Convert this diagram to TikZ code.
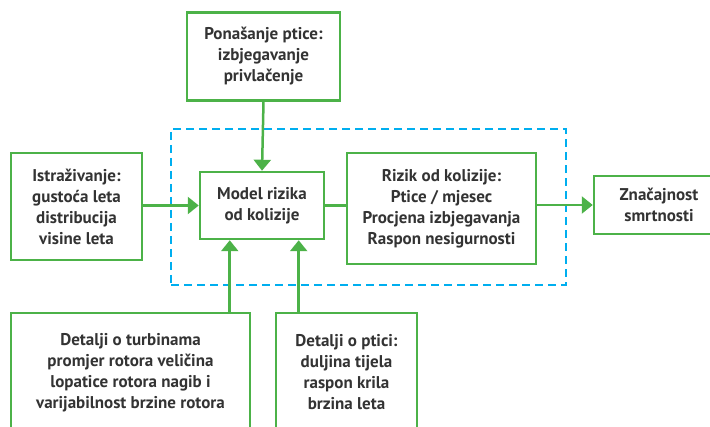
\documentclass[tikz,border=0pt]{standalone}
\usepackage{fontspec}
\setmainfont{PT Sans}
\usetikzlibrary{arrows.meta}
\usetikzlibrary{positioning}
\usetikzlibrary{calc}
\definecolor{zelena}{RGB}{76,178,72}
\definecolor{plava}{RGB}{0,174,239}
\definecolor{tekst}{RGB}{51,51,51}
\tikzset{
  kutija/.style={draw=zelena,line width=2.5pt,align=center,text=tekst,inner sep=0pt,
    font=\fontsize{17}{21}\selectfont\bfseries},
  strelica/.style={draw=zelena,line width=2.5pt,-{Triangle[length=11pt,width=17pt]}},
  veza/.style={draw=zelena,line width=2.5pt},
  okvir/.style={draw=plava,line width=2pt,dash pattern=on 8pt off 5pt,inner sep=0pt}
}

\begin{document}
\begin{tikzpicture}[x=1pt,y=-1pt]
  \useasboundingbox (0,0) rectangle (710,427);
  \node[okvir,minimum width=395pt,minimum height=156pt] (okvir) at (368.5,207) {};
  \node[kutija,minimum width=153pt,minimum height=88pt] (ponasanje) at (263.5,56.5) {Ponašanje ptice:\\izbjegavanje\\privlačenje};
  \node[kutija,minimum width=131pt,minimum height=107pt] (istrazivanje) at (76.5,206.5) {Istraživanje:\\gustoća leta\\distribucija\\visine leta};
  \node[kutija,minimum width=124pt,minimum height=67pt] (model) at (262,205.5) {Model rizika\\od kolizije};
  \node[kutija,minimum width=189pt,minimum height=111pt] (rizik) at (441.5,208.5) {Rizik od kolizije:\\Ptice / mjesec\\Procjena izbjegavanja\\Raspon nesigurnosti};
  \node[kutija,minimum width=130pt,minimum height=58pt] (znacajnost) at (659,205) {Značajnost\\smrtnosti};
  \node[kutija,minimum width=239pt,minimum height=119pt] (turbina) at (130.5,372.5) {Detalji o turbinama\\promjer rotora veličina\\lopatice rotora nagib i\\varijabilnost brzine rotora};
  \node[kutija,minimum width=141pt,minimum height=119pt] (ptica) at (346.5,372.5) {Detalji o ptici:\\duljina tijela\\raspon krila\\brzina leta};
  % ulazi u model odozdo
  \coordinate (ulaz1) at ($(model.south west)!0.245!(model.south east)$);
  \coordinate (ulaz2) at ($(model.south west)!0.79!(model.south east)$);
  \draw[strelica] (ponasanje.south) -- (model.north);
  \draw[strelica] (istrazivanje.east |- model) -- (model.west);
  \draw[veza] (model.east) -- (rizik.west |- model.east);
  \draw[strelica] (rizik.east |- znacajnost) -- (znacajnost.west);
  \draw[strelica] (turbina.north -| ulaz1) -- (ulaz1);
  \draw[strelica] (ptica.north -| ulaz2) -- (ulaz2);
\end{tikzpicture}
\end{document}
